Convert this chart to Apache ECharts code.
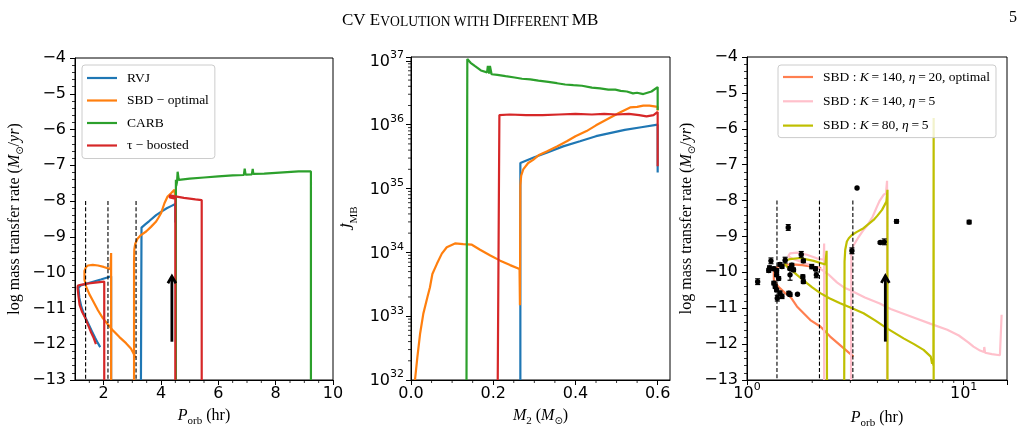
<!DOCTYPE html>
<html>
<head>
<meta charset="utf-8">
<title>CV Evolution with Different MB</title>
<script src="https://cdn.jsdelivr.net/npm/echarts@6/dist/echarts.min.js"></script>
<style>
html, body { margin: 0; padding: 0; background: #fff; }
#chart { width: 1022px; height: 434px; }
</style>
</head>
<body>
<div id="chart"></div>
<script>
// panel 1 : log mass transfer rate vs P_orb (hr), one array per drawn stretch
var rvjUpper = [[4.50,-8.60],[4.50,-8.08],[4.35,-8.14],[4.20,-8.20],[4.00,-8.30],[3.83,-8.39],[3.60,-8.55],[3.45,-8.65],[3.32,-8.74],[3.30,-8.78],[3.30,-13.0]];
var rvjLower = [[2.26,-13.0],[2.26,-10.10],[2.10,-10.14],[1.90,-10.19],[1.60,-10.26],[1.35,-10.32],[1.20,-10.36],[1.12,-10.42],[1.15,-10.70],[1.22,-10.95],[1.33,-11.20],[1.45,-11.40],[1.58,-11.62],[1.70,-11.82],[1.80,-11.97],[1.88,-12.08]];
var sbdUpper = [[4.50,-7.95],[4.47,-7.68],[4.35,-7.78],[4.23,-7.87],[4.12,-8.06],[4.00,-8.34],[3.90,-8.48],[3.83,-8.57],[3.65,-8.72],[3.48,-8.85],[3.30,-8.95],[3.18,-9.05],[3.10,-9.20],[3.07,-9.35],[3.06,-9.70],[3.06,-13.0]];
var sbdLower = [[2.26,-13.0],[2.26,-9.45],[2.24,-9.90],[2.20,-9.87],[2.00,-9.84],[1.80,-9.80],[1.62,-9.78],[1.45,-9.80],[1.38,-9.85],[1.33,-9.95],[1.33,-10.20],[1.39,-10.39],[1.50,-10.60],[1.62,-10.78],[1.80,-11.05],[1.97,-11.27],[2.15,-11.45],[2.31,-11.60],[2.55,-11.80],[2.78,-11.97],[2.95,-12.12],[3.07,-12.30],[3.10,-12.38]];
var carbTrack = [[9.23,-13.0],[9.23,-7.17],[9.17,-7.14],[8.80,-7.17],[8.40,-7.19],[8.00,-7.21],[7.60,-7.23],[7.22,-7.24],[7.20,-7.10],[7.17,-7.25],[6.95,-7.26],[6.92,-7.09],[6.89,-7.27],[6.50,-7.28],[6.00,-7.31],[5.50,-7.34],[5.00,-7.37],[4.70,-7.40],[4.62,-7.41],[4.58,-7.18],[4.56,-7.46],[4.53,-7.58],[4.52,-7.40],[4.52,-13.0]];
var tauUpper = [[5.42,-13.0],[5.42,-7.97],[5.20,-7.95],[5.00,-7.93],[4.80,-7.91],[4.60,-7.88],[4.45,-7.86],[4.32,-7.84],[4.30,-7.90],[4.50,-7.93],[4.50,-13.0]];
var tauLower = [[2.02,-13.0],[2.02,-10.25],[1.70,-10.28],[1.40,-10.31],[1.20,-10.34],[1.10,-10.36],[1.09,-10.42],[1.12,-10.65],[1.16,-10.90],[1.25,-11.10],[1.35,-11.25],[1.45,-11.45],[1.55,-11.65],[1.65,-11.82],[1.73,-12.00]];
var gapP1 = [1.37, 2.15, 3.13];
var arrowP1 = [4.38, -11.93, -10.1];

// panel 2 : M2 vs log10 of J_MB
var carbJ = [[0.600,36.23],[0.600,36.59],[0.596,36.57],[0.585,36.52],[0.575,36.50],[0.565,36.48],[0.550,36.50],[0.540,36.49],[0.525,36.52],[0.510,36.53],[0.497,36.55],[0.480,36.55],[0.460,36.57],[0.440,36.58],[0.416,36.61],[0.395,36.62],[0.375,36.63],[0.355,36.65],[0.334,36.67],[0.310,36.69],[0.290,36.71],[0.270,36.72],[0.252,36.74],[0.230,36.76],[0.210,36.78],[0.196,36.79],[0.192,36.92],[0.190,36.80],[0.187,36.92],[0.185,36.82],[0.170,36.85],[0.155,36.92],[0.145,36.97],[0.137,37.03],[0.135,37.05],[0.135,32.0]];
var tauJ = [[0.600,35.35],[0.600,36.20],[0.590,36.15],[0.573,36.13],[0.555,36.15],[0.530,36.17],[0.500,36.16],[0.470,36.17],[0.440,36.16],[0.400,36.17],[0.360,36.16],[0.320,36.15],[0.280,36.15],[0.240,36.16],[0.215,36.15],[0.211,36.16],[0.211,32.0]];
var sbdJ = [[0.600,36.22],[0.600,36.28],[0.580,36.30],[0.565,36.30],[0.550,36.28],[0.533,36.27],[0.508,36.19],[0.476,36.08],[0.450,35.99],[0.427,35.90],[0.400,35.82],[0.379,35.74],[0.355,35.66],[0.330,35.58],[0.310,35.52],[0.297,35.45],[0.285,35.40],[0.273,35.30],[0.268,35.20],[0.266,35.05],[0.265,33.17],[0.264,33.74],[0.241,33.80],[0.217,33.87],[0.193,33.95],[0.168,34.04],[0.148,34.12],[0.127,34.13],[0.107,34.14],[0.087,34.08],[0.075,33.98],[0.063,33.82],[0.052,33.66],[0.046,33.45],[0.040,33.30],[0.030,33.04],[0.022,32.72],[0.0155,32.36],[0.0097,32.0]];
var rvjJ = [[0.600,35.25],[0.600,36.00],[0.560,35.96],[0.520,35.92],[0.492,35.88],[0.450,35.82],[0.411,35.74],[0.370,35.66],[0.330,35.56],[0.300,35.49],[0.266,35.40],[0.266,32.0]];

// panel 3 : log mass transfer rate vs P_orb (log axis) for three SBD settings
var coralTrack = [[2.20,-9.88],[2.00,-9.84],[1.80,-9.80],[1.62,-9.78],[1.45,-9.80],[1.38,-9.85],[1.33,-9.95],[1.33,-10.20],[1.39,-10.39],[1.50,-10.58],[1.585,-10.68],[1.70,-10.95],[1.96,-11.33],[2.18,-11.51],[2.42,-11.79],[2.79,-12.11],[3.10,-12.35]];
var pinkUpper = [[4.43,-13.0],[4.43,-7.45],[4.38,-7.80],[4.27,-7.84],[4.10,-8.00],[3.98,-8.17],[3.80,-8.45],[3.60,-8.68],[3.45,-8.82],[3.25,-9.05],[3.10,-9.25],[3.03,-9.45],[3.02,-13.0]];
var pinkLower = [[2.27,-13.0],[2.27,-9.20],[2.26,-9.65],[2.10,-9.61],[1.89,-9.51],[1.70,-9.45],[1.58,-9.47],[1.55,-9.55],[1.62,-9.62],[1.80,-9.72],[2.00,-9.82],[2.20,-9.92],[2.40,-10.08],[2.60,-10.28],[2.80,-10.42],[3.00,-10.50],[3.50,-10.70],[4.10,-10.87],[4.60,-11.02],[5.20,-11.14],[6.00,-11.28],[7.00,-11.43],[8.40,-11.60],[9.50,-11.76],[10.50,-11.95],[11.10,-12.07],[11.90,-12.18],[12.40,-12.22],[12.45,-12.08],[12.55,-12.24],[13.50,-12.28],[14.70,-12.31],[14.95,-12.33],[14.97,-11.18]];
var oliveLower = [[7.27,-13.0],[7.27,-5.70],[7.25,-12.60],[7.20,-12.45],[7.15,-12.55],[7.05,-12.35],[6.53,-12.16],[5.90,-12.00],[5.28,-11.84],[4.43,-11.56],[3.90,-11.34],[3.45,-11.14],[3.00,-10.98],[2.69,-10.86],[2.40,-10.72],[2.18,-10.58],[2.00,-10.42],[1.89,-10.30],[1.78,-10.17],[1.70,-10.07],[1.62,-9.96],[1.55,-9.88],[1.50,-9.78],[1.50,-9.68],[1.58,-9.63],[1.76,-9.60],[2.03,-9.68],[2.30,-9.78],[2.33,-9.40],[2.34,-13.0]];
var oliveUpper = [[4.45,-13.0],[4.45,-7.70],[4.40,-8.03],[4.20,-8.26],[4.00,-8.42],[3.84,-8.54],[3.45,-8.77],[3.20,-8.88],[3.05,-8.96],[2.95,-9.05],[2.89,-9.14],[2.84,-9.37],[2.82,-9.70],[2.81,-13.0]];
var gapP3 = [1.375, 2.16, 3.08];
var arrowP3 = [4.35, -11.93, -10.1];

// observed CVs
var obsP   = [1.12,1.29,1.27,1.26,1.33,1.37,1.42,1.50,1.45,1.58,1.61,1.58,1.64,1.78,1.82,1.99,2.07,2.09,1.81,1.82,1.71,1.33,1.35,1.37,1.42,1.45,1.56,1.58,1.37,1.40,1.38,1.55,3.05,3.22,4.12,4.30,4.90,10.6];
var obsLog = [-10.26,-9.68,-9.88,-9.95,-9.90,-9.95,-9.78,-9.66,-9.84,-9.89,-9.80,-10.07,-9.93,-9.50,-9.68,-9.84,-9.90,-10.07,-10.12,-10.26,-10.61,-10.30,-10.40,-10.49,-10.58,-10.67,-10.58,-10.62,-10.07,-10.17,-10.72,-8.75,-9.40,-7.65,-9.17,-9.15,-8.58,-8.60];
var obsErr = [0.08,0.08,0.06,0.05,0.05,0.05,0.05,0.08,0.05,0.05,0.05,0.15,0.05,0.08,0.05,0.06,0.05,0.08,0.05,0.05,0,0.05,0.05,0.05,0.06,0.06,0.05,0.05,0.05,0.05,0.08,0.08,0.08,0,0.03,0.08,0.05,0.05];

var names1 = ['RVJ', 'SBD \u2212 optimal', 'CARB', '\u03c4 \u2212 boosted'];
var names3 = ['SBD : K=140, \u03b7=20, optimal', 'SBD : K=140, \u03b7=5', 'SBD : K=80, \u03b7=5'];

var SERIF = "'Liberation Serif', 'DejaVu Serif', serif";
var SANS = "'DejaVu Sans', sans-serif";

var chart = echarts.init(document.getElementById('chart'), null, {renderer: 'canvas'});

function pow10(seg) {
	return seg.map(function (p) { return [p[0], Math.pow(10, p[1])]; });
}

function line(name, data, color, gi) {
	return {
		type: 'line', name: name, data: data, xAxisIndex: gi, yAxisIndex: gi,
		symbol: 'none', silent: true, z: 3,
		lineStyle: {color: color, width: 2.2}, itemStyle: {color: color}
	};
}

function minus(v) { return String(v).replace('-', '\u2212'); }

function powLabel(v) {
	var e = Math.log10(v), r = Math.round(e);
	if (Math.abs(e - r) > 1e-6) return '';
	return '{b|10}{p|' + r + '}';
}

var powRich = {
	b: {fontFamily: SANS, fontSize: 16, lineHeight: 18, verticalAlign: 'bottom', color: '#000'},
	p: {fontFamily: SANS, fontSize: 11, lineHeight: 11, padding: [0, 0, 9, 0], verticalAlign: 'bottom', color: '#000'}
};

var nameRich = {
	r: {fontFamily: SERIF, fontSize: 16, lineHeight: 18, verticalAlign: 'top', color: '#000'},
	i: {fontFamily: SERIF, fontSize: 16, lineHeight: 18, verticalAlign: 'top', fontStyle: 'italic', color: '#000'},
	s: {fontFamily: SERIF, fontSize: 11, lineHeight: 11, padding: [8, 0, 0, 0], verticalAlign: 'top', color: '#000'},
	o: {fontFamily: SANS, fontSize: 10, lineHeight: 11, padding: [8, 0, 0, 0], verticalAlign: 'top', color: '#000'}
};

function axis(gi, extra) {
	var a = {
		gridIndex: gi,
		axisLine: {onZero: false, lineStyle: {color: '#000', width: 1}},
		axisTick: {length: 5, lineStyle: {color: '#000', width: 1}},
		axisLabel: {color: '#000', fontFamily: SANS, fontSize: 16},
		splitLine: {show: false},
		nameLocation: 'middle',
		nameTextStyle: {rich: nameRich}
	};
	for (var k in extra) {
		if (typeof extra[k] === 'object' && a[k] && !Array.isArray(extra[k])) {
			a[k] = Object.assign({}, a[k], extra[k]);
		} else {
			a[k] = extra[k];
		}
	}
	return a;
}

// minor ticks, drawn through each grid's own axes
function minorTicks(gi, xs, ys, yRef, xRef) {
	var data = [];
	xs.forEach(function (v) { data.push([v, yRef, 0]); });
	ys.forEach(function (v) { data.push([xRef, v, 1]); });
	return {
		type: 'custom', xAxisIndex: gi, yAxisIndex: gi, silent: true, z: 6, data: data,
		renderItem: function (params, api) {
			var cs = params.coordSys;
			var p = api.coord([api.value(0), api.value(1)]);
			var st = {stroke: '#000', lineWidth: 0.8};
			if (api.value(2) === 0) {
				var b = cs.y + cs.height;
				return {type: 'line', shape: {x1: p[0], y1: b, x2: p[0], y2: b + 3}, style: st};
			}
			return {type: 'line', shape: {x1: cs.x - 3, y1: p[1], x2: cs.x, y2: p[1]}, style: st};
		}
	};
}

function gapLines(gi, xs) {
	return {
		type: 'custom', xAxisIndex: gi, yAxisIndex: gi, silent: true, z: 4,
		data: xs.map(function (x) { return [x, -8, -13]; }),
		renderItem: function (params, api) {
			var a = api.coord([api.value(0), api.value(1)]);
			var b = api.coord([api.value(0), api.value(2)]);
			return {type: 'line', shape: {x1: a[0], y1: a[1], x2: b[0], y2: b[1]},
				style: {stroke: '#000', lineWidth: 1.1, lineDash: [4, 2.2]}};
		}
	};
}

function arrow(gi, d) {
	return {
		type: 'custom', xAxisIndex: gi, yAxisIndex: gi, silent: true, z: 7,
		data: [d],
		renderItem: function (params, api) {
			var a = api.coord([api.value(0), api.value(1)]);
			var b = api.coord([api.value(0), api.value(2)]);
			var st = {stroke: '#000', lineWidth: 2.8, fill: null};
			return {type: 'group', children: [
				{type: 'line', shape: {x1: a[0], y1: a[1], x2: b[0], y2: b[1] + 1}, style: st},
				{type: 'polyline', shape: {points: [[b[0] - 4, b[1] + 7], [b[0], b[1]], [b[0] + 4, b[1] + 7]]}, style: st}
			]};
		}
	};
}

var obsData = obsP.map(function (p, i) { return [p, obsLog[i], obsErr[i]]; });

var obsSeries = {
	type: 'custom', xAxisIndex: 2, yAxisIndex: 2, silent: true, z: 8, data: obsData,
	renderItem: function (params, api) {
		var x = api.value(0), y = api.value(1), e = api.value(2);
		var c = api.coord([x, y]);
		var kids = [];
		if (e > 0) {
			var t = api.coord([x, y + e]), b = api.coord([x, y - e]);
			var st = {stroke: '#000', lineWidth: 1.2};
			kids.push({type: 'line', shape: {x1: c[0], y1: t[1], x2: c[0], y2: b[1]}, style: st});
			kids.push({type: 'line', shape: {x1: c[0] - 2.5, y1: t[1], x2: c[0] + 2.5, y2: t[1]}, style: st});
			kids.push({type: 'line', shape: {x1: c[0] - 2.5, y1: b[1], x2: c[0] + 2.5, y2: b[1]}, style: st});
		}
		kids.push({type: 'circle', shape: {cx: c[0], cy: c[1], r: 2.7}, style: {fill: '#000'}});
		return {type: 'group', children: kids};
	}
};

// minor tick positions
var minorX1 = [], minorX2 = [], minorY2 = [], minorX3 = [];
for (var v = 1.5; v < 10; v += 0.5) { if (v % 2 !== 0) minorX1.push(v); }
for (var m = 1; m <= 12; m++) { if (m % 4 !== 0) minorX2.push(m * 0.05); }
for (var n = 32; n < 37; n++) { for (var k = 2; k <= 9; k++) minorY2.push(k * Math.pow(10, n)); }
for (var q = 2; q <= 9; q++) minorX3.push(q);

var grid = {show: true, borderColor: '#000', borderWidth: 1, backgroundColor: 'transparent'};

var legendBox = {
	orient: 'vertical', selectedMode: false, icon: 'rect',
	itemWidth: 30, itemHeight: 2.2,
	borderColor: '#cccccc', borderWidth: 1, borderRadius: 3, backgroundColor: 'rgba(255,255,255,0.8)'
};

var option = {
	animation: false,
	backgroundColor: '#fff',
	title: [
		{left: 337, top: 4, text: '{a|CV E}{b|VOLUTION WITH }{a|D}{b|IFFERENT }{a|MB}',
			textStyle: {fontWeight: 'normal', rich: {
				a: {fontFamily: SERIF, fontSize: 17, fontWeight: 'normal', lineHeight: 20, verticalAlign: 'bottom', color: '#000'},
				b: {fontFamily: SERIF, fontSize: 13.6, fontWeight: 'normal', lineHeight: 16, verticalAlign: 'bottom', color: '#000'}
			}}},
		{left: 1004, top: 5, text: '5', textStyle: {fontFamily: SERIF, fontSize: 16, fontWeight: 'normal', color: '#000'}}
	],
	grid: [
		Object.assign({left: 75, top: 58, width: 258, height: 322}, grid),
		Object.assign({left: 411, top: 57, width: 259, height: 323}, grid),
		Object.assign({left: 747, top: 57, width: 260, height: 323}, grid)
	],
	legend: [
		Object.assign({
			data: names1, left: 82, top: 65, itemGap: 6.5, padding: [5, 6, 5, 5],
			textStyle: {fontFamily: SERIF, fontSize: 13.5, lineHeight: 16, color: '#000', padding: [0, 0, 0, 5]}
		}, legendBox),
		Object.assign({
			data: names3, left: 778, top: 65, itemGap: 8.3, padding: [4, 6, 4, 5],
			formatter: function (name) {
				var parts = name.split(', ');
				var s = '{r|SBD : }{i|K}{r|\u2009=\u2009' + parts[0].split('=')[1] + ', }{i|\u03b7}{r|\u2009=\u2009' + parts[1].split('=')[1] + '}';
				if (parts[2]) s += '{r|, ' + parts[2] + '}';
				return s;
			},
			textStyle: {fontFamily: SERIF, fontSize: 13.5, lineHeight: 16, color: '#000', padding: [0, 0, 0, 5],
				rich: {
					r: {fontFamily: SERIF, fontSize: 13.5, color: '#000'},
					i: {fontFamily: SERIF, fontSize: 13.5, fontStyle: 'italic', color: '#000'}
				}}
		}, legendBox)
	],
	xAxis: [
		axis(0, {type: 'value', min: 1, max: 10, interval: 1,
			axisTick: {customValues: [2, 4, 6, 8, 10]},
			axisLabel: {customValues: [2, 4, 6, 8, 10], margin: 6},
			name: '{i|P}{s|orb}{r| (hr)}', nameGap: 28}),
		axis(1, {type: 'value', min: 0, max: 0.63, interval: 0.2,
			axisTick: {customValues: [0, 0.2, 0.4, 0.6]},
			axisLabel: {customValues: [0, 0.2, 0.4, 0.6], margin: 6, formatter: function (v) { return v.toFixed(1); }},
			name: '{i|M}{s|2}{r| (}{i|M}{o|\u2299}{r|)}', nameGap: 28}),
		axis(2, {type: 'log', logBase: 10, min: 1, max: 15.85,
			axisLabel: {formatter: powLabel, rich: powRich, margin: 4},
			name: '{i|P}{s|orb}{r| (hr)}', nameGap: 30})
	],
	yAxis: [
		axis(0, {type: 'value', min: -13, max: -4, interval: 1,
			minorTick: {show: true, splitNumber: 5, length: 3, lineStyle: {color: '#000', width: 0.8}},
			axisLabel: {formatter: minus, margin: 9},
			name: '{r|log mass transfer rate (}{i|M}{o|\u2299}{r|/}{i|yr}{r|)}', nameGap: 50}),
		axis(1, {type: 'log', logBase: 10, min: 1e32, max: 1.15e37,
			axisLabel: {formatter: powLabel, rich: powRich, margin: 7},
			name: '{i|J\u0307}{s|MB}', nameGap: 52}),
		axis(2, {type: 'value', min: -13, max: -4, interval: 1,
			minorTick: {show: true, splitNumber: 5, length: 3, lineStyle: {color: '#000', width: 0.8}},
			axisLabel: {formatter: minus, margin: 9},
			name: '{r|log mass transfer rate (}{i|M}{o|\u2299}{r|/}{i|yr}{r|)}', nameGap: 50})
	],
	series: [
		line(names1[0], rvjUpper, '#1f77b4', 0),
		line(names1[0], rvjLower, '#1f77b4', 0),
		line(names1[1], sbdUpper, '#ff7f0e', 0),
		line(names1[1], sbdLower, '#ff7f0e', 0),
		line(names1[2], carbTrack, '#2ca02c', 0),
		line(names1[3], tauUpper, '#d62728', 0),
		line(names1[3], tauLower, '#d62728', 0),
		gapLines(0, gapP1),
		arrow(0, arrowP1),
		minorTicks(0, minorX1, [], -8, 5),

		line('rvjJ', pow10(rvjJ), '#1f77b4', 1),
		line('sbdJ', pow10(sbdJ), '#ff7f0e', 1),
		line('carbJ', pow10(carbJ), '#2ca02c', 1),
		line('tauJ', pow10(tauJ), '#d62728', 1),
		minorTicks(1, minorX2, minorY2, 1e34, 0.3),

		line(names3[0], coralTrack, '#ff7f50', 2),
		line(names3[1], pinkUpper, '#ffc0cb', 2),
		line(names3[1], pinkLower, '#ffc0cb', 2),
		line(names3[2], oliveLower, '#bfbf00', 2),
		line(names3[2], oliveUpper, '#bfbf00', 2),
		gapLines(2, gapP3),
		arrow(2, arrowP3),
		obsSeries,
		minorTicks(2, minorX3, [], -8, 2)
	]
};

chart.setOption(option);
</script>
</body>
</html>
